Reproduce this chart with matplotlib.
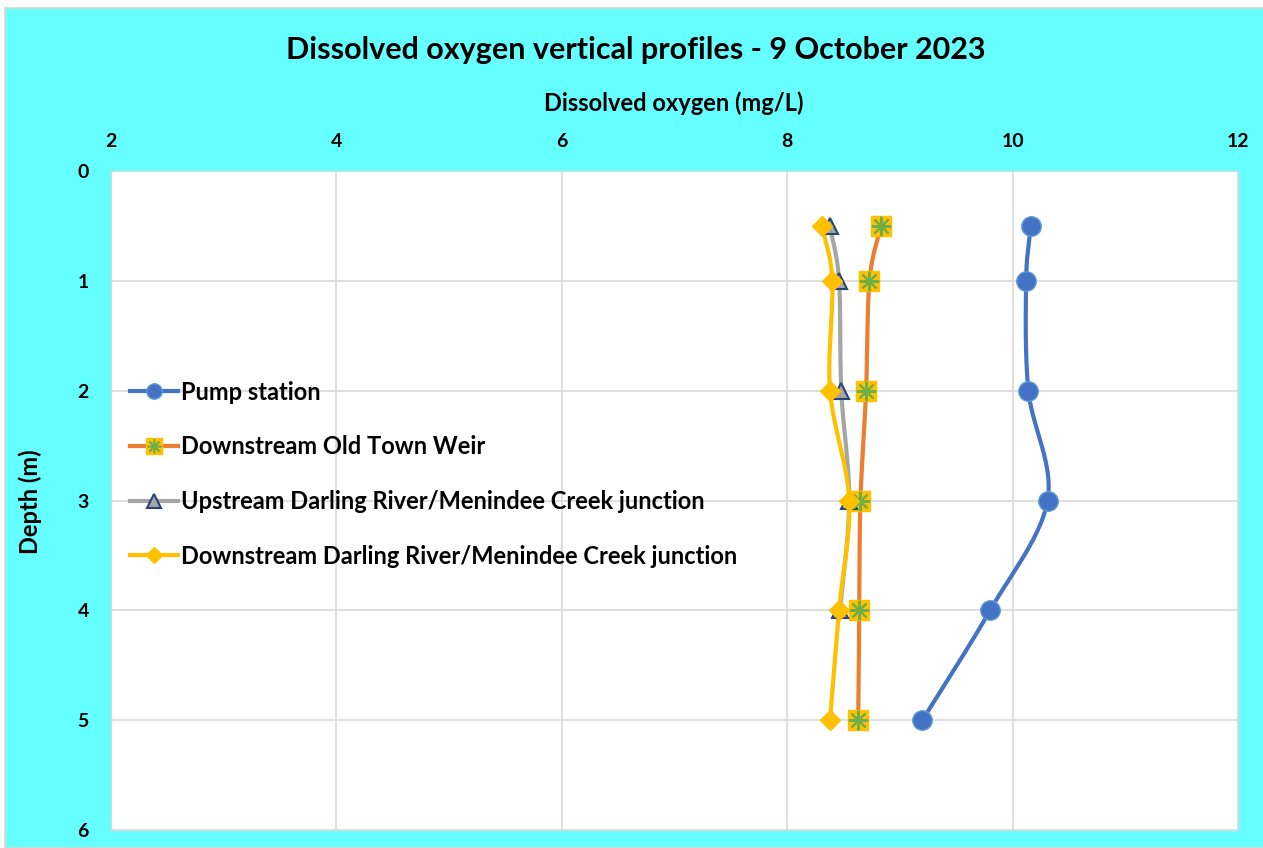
import numpy as np
import matplotlib.pyplot as plt
from matplotlib.legend_handler import HandlerTuple
from matplotlib.lines import Line2D
from matplotlib.patches import Rectangle

plt.rcParams['font.family'] = ['Lato', 'DejaVu Sans']
plt.rcParams['font.weight'] = 'bold'

# depths (m) and dissolved oxygen (mg/L)
depth = [0.5, 1, 2, 3, 4, 5]
pump_station = [10.16, 10.12, 10.14, 10.31, 9.80, 9.20]
old_town_weir = [8.83, 8.73, 8.70, 8.65, 8.64, 8.63]
upstream_depth = [0.5, 1, 2, 3, 4]
upstream_jct = [8.38, 8.46, 8.48, 8.55, 8.47]
downstream_jct = [8.31, 8.40, 8.38, 8.55, 8.46, 8.38]

labels = ["Pump station", "Downstream Old Town Weir",
          "Upstream Darling River/Menindee Creek junction",
          "Downstream Darling River/Menindee Creek junction"]


def smooth(x, y, n=30):
    # catmull-rom like Excel's smoothed line
    p = np.column_stack([x, y]).astype(float)
    p = np.vstack([2 * p[0] - p[1], p, 2 * p[-1] - p[-2]])
    out = []
    t = np.linspace(0, 1, n)[:, None]
    for i in range(1, len(p) - 2):
        p0, p1, p2, p3 = p[i - 1], p[i], p[i + 1], p[i + 2]
        seg = 0.5 * ((2 * p1) + (-p0 + p2) * t + (2 * p0 - 5 * p1 + 4 * p2 - p3) * t ** 2
                     + (-p0 + 3 * p1 - 3 * p2 + p3) * t ** 3)
        out.append(seg)
    out = np.vstack(out)
    return out[:, 0], out[:, 1]


W, H = 1263, 848
fig = plt.figure(figsize=(W / 100, H / 100), dpi=100, facecolor="white")
fig.add_artist(Rectangle((5 / W, 0), 1, 1 - 8 / H, transform=fig.transFigure,
                         facecolor="#66FFFF", edgecolor="#D8D8C8", lw=1.2, zorder=0))
ax = fig.add_axes([111 / W, 18 / H, 1127 / W, 659 / H])
ax.set_facecolor("white")

lw = 3
sx, sy = smooth(pump_station, depth)
ax.plot(sx, sy, color="#4472C4", lw=lw, zorder=3)
ax.plot(pump_station, depth, ls="", marker="o", ms=14, mfc="#4472C4",
        mec="#5B9BD5", mew=1, zorder=4)

sx, sy = smooth(old_town_weir, depth)
ax.plot(sx, sy, color="#ED7D31", lw=lw, zorder=3)
ax.plot(old_town_weir, depth, ls="", marker="s", ms=15, mfc="#FFC000",
        mec="#FFC000", zorder=4)
ax.plot(old_town_weir, depth, ls="", marker=(8, 2, 0), ms=14, mec="#70AD47",
        mew=1.5, zorder=5)

sx, sy = smooth(upstream_jct, upstream_depth)
ax.plot(sx, sy, color="#A5A5A5", lw=lw, zorder=3)
ax.plot(upstream_jct, upstream_depth, ls="", marker="^", ms=12, mfc="#A5A5A5",
        mec="#264478", mew=1.5, zorder=4)

sx, sy = smooth(downstream_jct, depth)
ax.plot(sx, sy, color="#FFC000", lw=lw, zorder=3)
ax.plot(downstream_jct, depth, ls="", marker="D", ms=10, mfc="#FFC000",
        mec="#FFC000", zorder=5)

ax.set_xlim(2, 12)
ax.set_ylim(6, 0)
ax.set_xticks(np.arange(2, 13, 2))
ax.set_yticks(np.arange(0, 7, 1))
ax.xaxis.tick_top()
ax.tick_params(length=0, labelsize=14)
ax.tick_params(axis="x", pad=15)
ax.tick_params(axis="y", pad=16)
for lab in ax.get_xticklabels() + ax.get_yticklabels():
    lab.set_fontweight("bold")
ax.grid(True, color="#D9D9D9", lw=1.2)
ax.set_axisbelow(True)
for s in ax.spines.values():
    s.set_color("#D9D9D9")

fig.text(674 / W, 1 - 103 / H, "Dissolved oxygen (mg/L)", ha="center", va="center",
         fontsize=17, fontweight="bold")
fig.text(30 / W, 1 - 502 / H, "Depth (m)", ha="center", va="center", rotation=90,
         fontsize=17, fontweight="bold")
fig.text(636 / W, 1 - 50 / H, "Dissolved oxygen vertical profiles - 9 October 2023",
         ha="center", va="center", fontsize=22, fontweight="bold")

l1 = Line2D([], [], color="#4472C4", lw=lw, marker="o", ms=11, mfc="#4472C4", mec="#5B9BD5")
l2 = Line2D([], [], color="#ED7D31", lw=lw)
l2s = Line2D([], [], ls="", marker="s", ms=11, mfc="#FFC000", mec="#FFC000")
l2x = Line2D([], [], ls="", marker=(8, 2, 0), ms=10, mec="#70AD47", mew=1.2)
l3 = Line2D([], [], color="#A5A5A5", lw=lw, marker="^", ms=10, mfc="#A5A5A5", mec="#264478", mew=1.5)
l4 = Line2D([], [], color="#FFC000", lw=lw, marker="D", ms=8, mfc="#FFC000", mec="#FFC000")
ax.legend([l1, (l2, l2s, l2x), l3, l4], labels,
          handler_map={tuple: HandlerTuple(ndivide=1, pad=0)},
          loc="upper left", bbox_to_anchor=(-0.002, 0.714), frameon=False,
          handlelength=2.05, handletextpad=0.1, labelspacing=1.34,
          prop={"weight": "bold", "size": 17})

fig.savefig("out.png", dpi=100, facecolor=fig.get_facecolor())
